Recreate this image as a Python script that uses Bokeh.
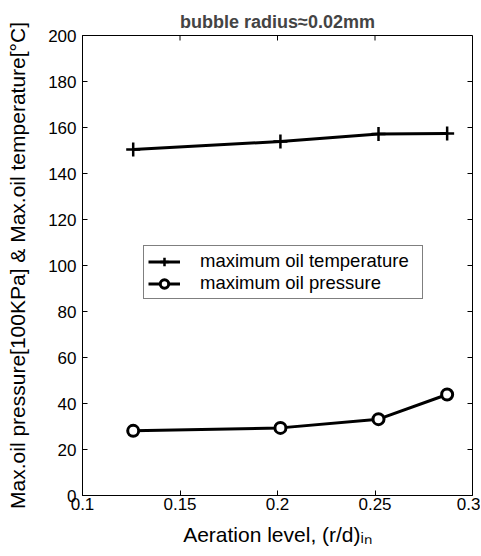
import math
from bokeh.plotting import figure
from bokeh.models import Legend, LegendItem, Range1d, FixedTicker
from bokeh.embed import file_html
from bokeh.resources import INLINE

aeration = [0.126, 0.2015, 0.2518, 0.287]
max_temp = [150.4, 153.9, 157.2, 157.4]
max_press = [28.1, 29.4, 33.2, 43.9]
x_ticks = [0.1, 0.15, 0.2, 0.25, 0.3]
y_ticks = [0, 20, 40, 60, 80, 100, 120, 140, 160, 180, 200]
x_min, x_max = 0.1, 0.3
y_min, y_max = 0, 200

FONT = "Liberation Sans"

p = figure(width=480, height=552, output_backend="svg", toolbar_location=None,
           x_range=Range1d(x_min, x_max), y_range=Range1d(y_min, y_max),
           min_border_left=82, min_border_right=8, min_border_top=35, min_border_bottom=57,
           title="bubble radius\u22480.02mm")
p.title.align = "center"
p.title.text_font = FONT
p.title.text_font_size = "18px"
p.title.text_font_style = "bold"
p.title.offset = 0
p.title.standoff = 7
p.grid.visible = False
p.outline_line_color = "black"
p.outline_line_width = 1
p.background_fill_color = "white"
p.border_fill_color = "white"

for ax in [p.xaxis[0], p.yaxis[0]]:
    ax.major_tick_in = 5
    ax.major_tick_out = 0
    ax.minor_tick_line_color = None
    ax.axis_line_color = "black"
    ax.major_label_text_font = FONT
    ax.major_label_text_font_size = "17px"
    ax.major_label_text_color = "black"
    ax.axis_label_text_font = FONT
    ax.axis_label_text_font_size = "21px"
    ax.axis_label_text_font_style = "normal"
    ax.axis_label_text_color = "black"

p.xaxis[0].ticker = FixedTicker(ticks=x_ticks)
p.yaxis[0].ticker = FixedTicker(ticks=y_ticks)
p.xaxis[0].major_label_overrides = {t: ("%g" % t) for t in x_ticks}
p.xaxis[0].major_label_standoff = 2
p.yaxis[0].major_label_standoff = 6
p.xaxis[0].axis_label = "Aeration level, (r/d)\u1d62\u2099"
p.xaxis[0].axis_label_standoff = 10
p.yaxis[0].axis_label = "Max.oil pressure[100KPa] & Max.oil temperature[\u00b0C]"
p.yaxis[0].axis_label_standoff = 16

# inward ticks on top and right edges (mirror of the bottom/left axes)
p.ray(x=x_ticks, y=[y_max] * len(x_ticks), length=5, length_units="screen",
      angle=-math.pi / 2, line_color="black", line_width=1)
p.ray(x=[x_max] * len(y_ticks), y=y_ticks, length=5, length_units="screen",
      angle=math.pi, line_color="black", line_width=1)

r1a = p.line(aeration, max_temp, line_color="black", line_width=3)
r1b = p.scatter(aeration, max_temp, marker="cross", size=14, line_color="black", line_width=2.5)
r2a = p.line(aeration, max_press, line_color="black", line_width=3)
r2b = p.scatter(aeration, max_press, marker="circle", size=11, line_color="black",
                fill_color="white", line_width=3)

legend = Legend(items=[LegendItem(label="maximum oil temperature", renderers=[r1a, r1b]),
                       LegendItem(label="maximum oil pressure", renderers=[r2a, r2b])],
                location=(61, 196), border_line_color="black", border_line_width=1,
                label_text_font=FONT, label_text_font_size="18.5px", label_text_color="black",
                glyph_width=32, glyph_height=21, label_height=21, spacing=0, padding=4,
                margin=0, label_standoff=20, label_width=218, background_fill_alpha=1)
p.add_layout(legend, "center")

open("out.html", "w").write(file_html(p, INLINE))
